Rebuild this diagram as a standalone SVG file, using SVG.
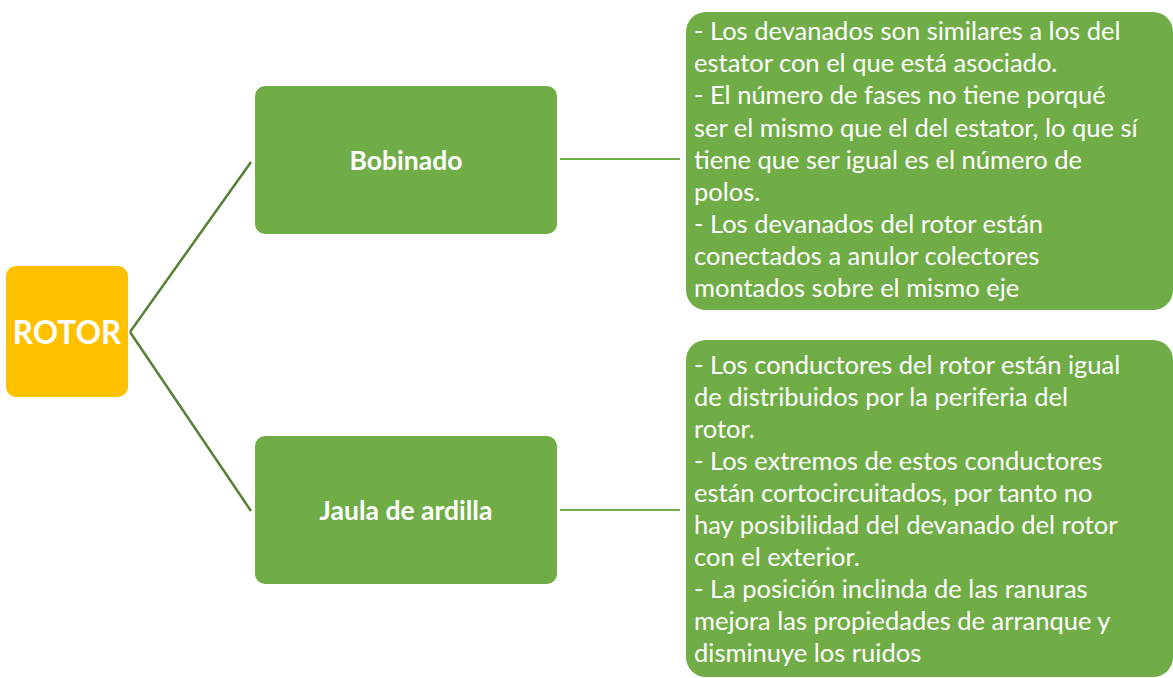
<svg xmlns="http://www.w3.org/2000/svg" width="1173" height="678" viewBox="0 0 1173 678">
<style>
.g{fill:#70AD47}
.t{font-family:Lato,"Open Sans",sans-serif;fill:#fff}
.b{font-weight:bold;text-anchor:middle;dominant-baseline:central}
.d{font-size:25.5px}
.c1{stroke:#548235;stroke-width:2.5;fill:none}
.c2{stroke:#70AD47;stroke-width:2;fill:none}
</style>
<rect width="1173" height="678" fill="#fff"/>
<g id="connectors">
<path class="c1" d="M130 332 L251 162"/>
<path class="c1" d="M130 332 L251 511"/>
<path class="c2" d="M560 159 L680 159"/>
<path class="c2" d="M560 510 L680 510"/>
</g>
<g id="rotor">
<rect x="6" y="266" width="122" height="131" rx="10" fill="#FFC000"/>
<text class="t b" x="67" y="332" font-size="31.5">ROTOR</text>
</g>
<g id="bobinado">
<rect class="g" x="255" y="86" width="302" height="148" rx="10"/>
<text class="t b" x="406" y="160" font-size="26.5">Bobinado</text>
</g>
<g id="jaula">
<rect class="g" x="255" y="436" width="302" height="148" rx="10"/>
<text class="t b" x="406" y="510" font-size="26.5">Jaula de ardilla</text>
</g>
<g id="desc-bobinado">
<rect class="g" x="686" y="12" width="487" height="298" rx="20"/>
<text class="t d" x="694">
<tspan x="694" y="40">- Los devanados son similares a los del</tspan>
<tspan x="694" y="72">estator con el que está asociado.</tspan>
<tspan x="694" y="104">- El número de fases no tiene porqué</tspan>
<tspan x="694" y="137">ser el mismo que el del estator, lo que sí</tspan>
<tspan x="694" y="169">tiene que ser igual es el número de</tspan>
<tspan x="694" y="201">polos.</tspan>
<tspan x="694" y="233">- Los devanados del rotor están</tspan>
<tspan x="694" y="265">conectados a anulor colectores</tspan>
<tspan x="694" y="297">montados sobre el mismo eje</tspan>
</text>
</g>
<g id="desc-jaula">
<rect class="g" x="686" y="340" width="487" height="337" rx="20"/>
<text class="t d" x="694">
<tspan x="694" y="374">- Los conductores del rotor están igual</tspan>
<tspan x="694" y="406">de distribuidos por la periferia del</tspan>
<tspan x="694" y="438">rotor.</tspan>
<tspan x="694" y="470">- Los extremos de estos conductores</tspan>
<tspan x="694" y="502">están cortocircuitados, por tanto no</tspan>
<tspan x="694" y="534">hay posibilidad del devanado del rotor</tspan>
<tspan x="694" y="566">con el exterior.</tspan>
<tspan x="694" y="598">- La posición inclinda de las ranuras</tspan>
<tspan x="694" y="630">mejora las propiedades de arranque y</tspan>
<tspan x="694" y="662">disminuye los ruidos</tspan>
</text>
</g>
</svg>
